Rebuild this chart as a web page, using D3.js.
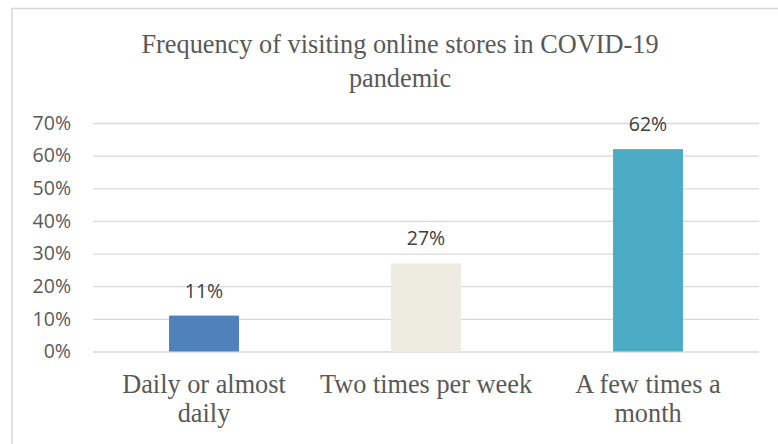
<!DOCTYPE html>
<html>
<head>
<meta charset="utf-8">
<script src="https://cdn.jsdelivr.net/npm/d3@7"></script>
<style>
  html, body { margin: 0; padding: 0; background: #ffffff; }
  svg { display: block; }
</style>
</head>
<body>
<svg id="chart" width="778" height="444"></svg>
<script>
// ---- data ----
const categories = ["Daily or almost daily", "Two times per week", "A few times a month"];
const categoryLines = [["Daily or almost", "daily"], ["Two times per week"], ["A few times a", "month"]];
const values = [0.11, 0.27, 0.62];
const barColors = ["#4F81BD", "#EEECE1", "#4BACC6"];
const yTicks = [0, 0.1, 0.2, 0.3, 0.4, 0.5, 0.6, 0.7];
const titleLines = ["Frequency of visiting online stores in COVID-19", "pandemic"];

// ---- layout ----
const svg = d3.select("#chart");
const plot = { left: 93, right: 759, top: 123, bottom: 351.5 };

// frame
svg.append("rect")
  .attr("x", 12).attr("y", 8.5)
  .attr("width", 800).attr("height", 460)
  .attr("fill", "#ffffff")
  .attr("stroke", "#d9d9d9").attr("stroke-width", 1.6);

const x = d3.scaleBand().domain(categories).range([plot.left, plot.right]).padding(0);
const y = d3.scaleLinear().domain([0, 0.7]).range([plot.bottom, plot.top]);

// y axis with gridlines
const yAxis = svg.append("g")
  .attr("transform", `translate(${plot.left},0)`)
  .call(d3.axisLeft(y).tickValues(yTicks).tickSize(-(plot.right - plot.left)).tickPadding(22).tickFormat(d3.format(".0%")));
yAxis.select(".domain").remove();
yAxis.selectAll(".tick line").attr("stroke", "#d9d9d9").attr("stroke-width", 1.3);
yAxis.selectAll(".tick text")
  .attr("fill", "#595959")
  .style("font-family", "'Open Sans', sans-serif")
  .style("font-size", "19.5px");

// bars
const barW = x.bandwidth() * 0.315;
svg.append("g").selectAll("rect")
  .data(values)
  .join("rect")
  .attr("x", (d, i) => x(categories[i]) + (x.bandwidth() - barW) / 2)
  .attr("y", d => y(d))
  .attr("width", barW)
  .attr("height", d => y(0) - y(d))
  .attr("fill", (d, i) => barColors[i]);

// value labels
svg.append("g").selectAll("text")
  .data(values)
  .join("text")
  .attr("x", (d, i) => x(categories[i]) + x.bandwidth() / 2)
  .attr("y", d => y(d) - 18)
  .attr("text-anchor", "middle")
  .attr("fill", "#404040")
  .style("font-family", "'Open Sans', sans-serif")
  .style("font-size", "19.5px")
  .text(d => d3.format(".0%")(d));

// x labels
const xl = svg.append("g");
categoryLines.forEach((lines, i) => {
  lines.forEach((ln, j) => {
    xl.append("text")
      .attr("x", x(categories[i]) + x.bandwidth() / 2)
      .attr("y", 392.7 + j * 29.5)
      .attr("text-anchor", "middle")
      .attr("fill", "#595959")
      .style("font-family", "'Liberation Serif', 'Times New Roman', serif")
      .style("font-size", "26.3px")
      .text(ln);
  });
});

// title
titleLines.forEach((t, j) => {
  svg.append("text")
    .attr("x", 400)
    .attr("y", 53.3 + j * 33.2)
    .attr("text-anchor", "middle")
    .attr("fill", "#595959")
    .style("font-family", "'Liberation Serif', 'Times New Roman', serif")
    .style("font-size", "26.3px")
    .text(t);
});
</script>
</body>
</html>
